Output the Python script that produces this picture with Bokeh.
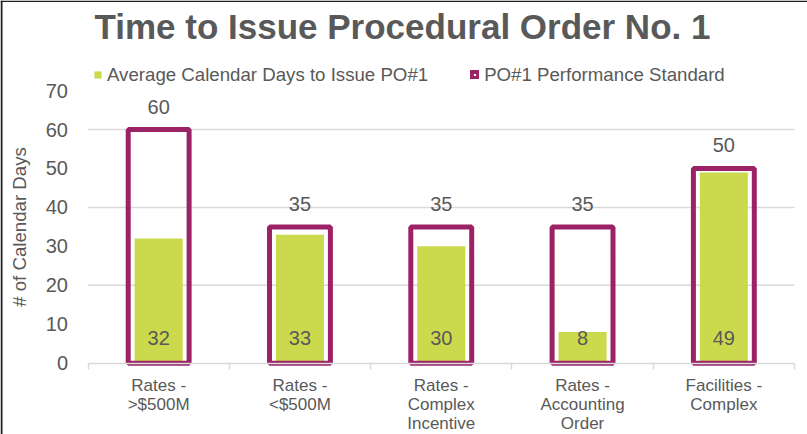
from bokeh.plotting import figure
from bokeh.models import (ColumnDataSource, FixedTicker, Range1d, Legend, LegendItem, Label,
                          BoxAnnotation)
from bokeh.core.properties import value
from bokeh.embed import file_html
from bokeh.resources import INLINE

categories = ["Rates -\n>$500M", "Rates -\n<$500M", "Rates -\nComplex\nIncentive",
              "Rates -\nAccounting\nOrder", "Facilities -\nComplex"]
avg_days = [32, 33, 30, 8, 49]
standard_days = [60, 35, 35, 35, 50]
y_ticks = [0, 10, 20, 30, 40, 50, 60, 70]
grid_ticks = [20, 40, 60]
title_text = "Time to Issue Procedural Order No. 1"
y_label = "# of Calendar Days"
series_names = ["Average Calendar Days to Issue PO#1", "PO#1 Performance Standard"]

FONT = "Liberation Sans"
TXT = "#595959"
GREEN = "#CBDA4C"
PURPLE = "#9B2264"
GREY = "#D9D9D9"

# layout (canvas pixels)
W, H = 807, 434
LEFT_PX, RIGHT_PX = 87.5, 794
ZERO_PX, TOP_PX = 362.7, 90.1

n = len(categories)
ymax = y_ticks[-1]
u = n / (RIGHT_PX - LEFT_PX)
v = ymax / (ZERO_PX - TOP_PX)
x_range = Range1d(-0.5 - LEFT_PX * u, n - 0.5 + (W - RIGHT_PX) * u)
y_range = Range1d(-(H - ZERO_PX) * v, ymax + TOP_PX * v)

pos = list(range(n))
source = ColumnDataSource(dict(
    x=pos, avg=avg_days, std=standard_days,
    avg_txt=[str(a) for a in avg_days], std_txt=[str(s) for s in standard_days]))
grid_src = ColumnDataSource(dict(y=grid_ticks, x0=[-0.5] * len(grid_ticks),
                                 x1=[n - 0.5] * len(grid_ticks)))

p = figure(width=W, height=H, output_backend="svg", toolbar_location=None,
           x_range=x_range, y_range=y_range, min_border=0)
p.outline_line_color = None
p.xgrid.visible = False
p.ygrid.visible = False

p.segment(x0="x0", x1="x1", y0="y", y1="y", source=grid_src, line_color=GREY, line_width=1.5)

g = p.vbar(x="x", top="avg", width=0.34, source=source, fill_color=GREEN, line_color=None)
o = p.vbar(x="x", top="std", width=0.431, source=source, fill_color=None,
           line_color=PURPLE, line_width=5)

p.text(x="x", y="std", text="std_txt", source=source, text_font=value(FONT),
       text_font_size=value("20px"), text_color=TXT, text_align="center",
       text_baseline="middle", y_offset=-23)
p.text(x="x", y=0, text="avg_txt", source=source, text_font=value(FONT),
       text_font_size=value("20px"), text_color=TXT, text_align="center",
       text_baseline="middle", y_offset=-25)

# y axis
p.yaxis.fixed_location = -0.5
p.yaxis.bounds = (0, ymax)
p.yaxis.ticker = FixedTicker(ticks=y_ticks)
p.yaxis.axis_line_color = None
p.yaxis.major_tick_line_color = None
p.yaxis.minor_tick_line_color = None
p.yaxis.major_label_text_font = FONT
p.yaxis.major_label_text_font_size = "20px"
p.yaxis.major_label_text_color = TXT
p.yaxis.major_label_standoff = 14
p.yaxis.axis_label = y_label
p.yaxis.axis_label_text_font = FONT
p.yaxis.axis_label_text_font_size = "18.67px"
p.yaxis.axis_label_text_font_style = "normal"
p.yaxis.axis_label_text_color = TXT
p.yaxis.axis_label_standoff = 13

# x axis
p.xaxis.fixed_location = 0
p.xaxis.bounds = (-0.5, n - 0.5)
p.xaxis.ticker = FixedTicker(ticks=pos, minor_ticks=[i - 0.5 for i in range(n + 1)])
p.xaxis.major_label_overrides = {i: c for i, c in zip(pos, categories)}
p.xaxis.axis_line_color = GREY
p.xaxis.axis_line_width = 1.5
p.xaxis.major_tick_line_color = None
p.xaxis.minor_tick_line_color = GREY
p.xaxis.minor_tick_line_width = 1.5
p.xaxis.minor_tick_out = 6
p.xaxis.minor_tick_in = 0
p.xaxis.major_label_text_font = FONT
p.xaxis.major_label_text_font_size = "17px"
p.xaxis.major_label_text_color = TXT
p.xaxis.major_label_text_line_height = 1.0
p.xaxis.major_label_standoff = 7

title = Label(x=94, y=H - 26, x_units="screen", y_units="screen", text=title_text,
              text_font=FONT, text_font_size="35px", text_font_style="bold",
              text_color=TXT, text_baseline="alphabetic", text_align="left")
p.add_layout(title)

legend = Legend(items=[LegendItem(label=series_names[0], renderers=[g]),
                       LegendItem(label=series_names[1], renderers=[o])],
                location=(93, H - 85.5), orientation="horizontal",
                glyph_width=9, glyph_height=9, label_standoff=5, spacing=42,
                padding=0, margin=0, border_line_color=None, background_fill_alpha=0,
                label_text_font=FONT, label_text_font_size="18.67px", label_text_color=TXT)
p.add_layout(legend, "center")

# thin dark edge at the left and top of the picture
p.add_layout(BoxAnnotation(left=0, right=2, left_units="screen", right_units="screen",
                           fill_color="#1E1E1E", fill_alpha=1, line_color=None))
p.add_layout(BoxAnnotation(bottom=H - 1.5, top=H, bottom_units="screen", top_units="screen",
                           fill_color="#1E1E1E", fill_alpha=1, line_color=None))

open("out.html", "w").write(file_html(p, INLINE))
